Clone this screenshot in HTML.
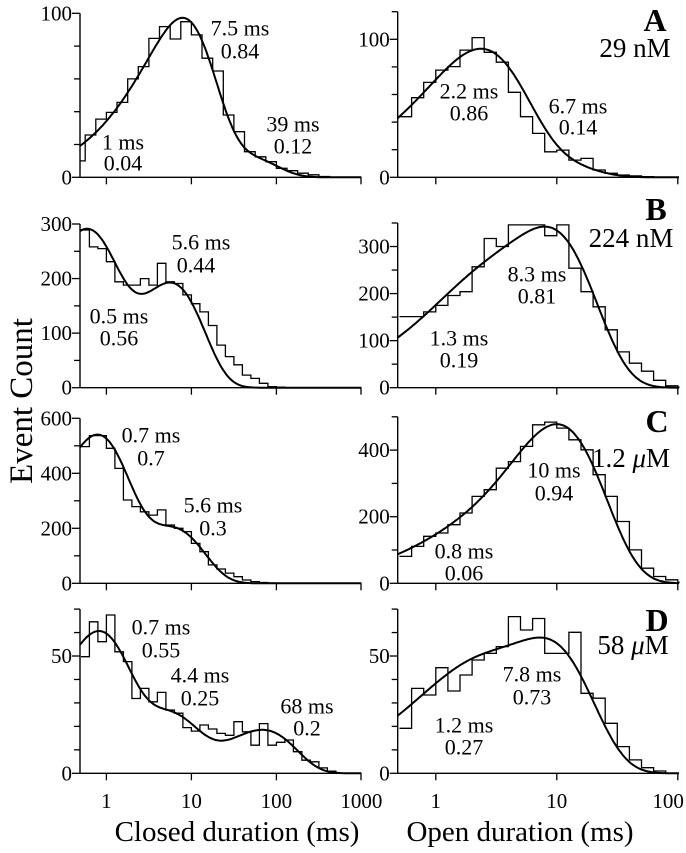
<!DOCTYPE html>
<html>
<head>
<meta charset="utf-8">
<style>
  html,body{margin:0;padding:0;background:#fff;}
  svg{display:block;font-family:"Liberation Serif","DejaVu Serif",serif;}
</style>
</head>
<body>
<svg id="fig" width="686" height="853" viewBox="0 0 686 853" xmlns="http://www.w3.org/2000/svg">
  <text x="22" y="401" font-size="33" text-anchor="middle" transform="rotate(-90 22 401)" dominant-baseline="central">Event Count</text>
  <text x="237" y="841" font-size="29" text-anchor="middle">Closed duration (ms)</text>
  <text x="520" y="841" font-size="29" text-anchor="middle">Open duration (ms)</text>

  <text x="655" y="31" font-size="32" font-weight="bold" text-anchor="middle">A</text>
  <text x="635" y="57" font-size="27" text-anchor="middle">29 nM</text>
  <text x="656" y="220" font-size="32" font-weight="bold" text-anchor="middle">B</text>
  <text x="631" y="247" font-size="27" text-anchor="middle">224 nM</text>
  <text x="657" y="432" font-size="32" font-weight="bold" text-anchor="middle">C</text>
  <text x="631" y="467" font-size="27" text-anchor="middle">1.2 <tspan font-style="italic">μ</tspan>M</text>
  <text x="657" y="631" font-size="32" font-weight="bold" text-anchor="middle">D</text>
  <text x="633" y="654" font-size="27" text-anchor="middle">58 <tspan font-style="italic">μ</tspan>M</text>
</svg>
<script>
// ---------- DATA ----------
const aClosedCounts = [10,25.8,35.5,39.6,45.7,60,67.5,84.7,91.9,84.3,94.9,86.8,72.6,64.8,38,27.8,15.6,12.5,9.5,5.5,4,2.5,1.5,0.5];
const aOpenCounts = [43.9,57.7,68.8,77.7,80.2,92.2,101.2,90.6,83.4,61.6,43.9,31.8,18.5,19.7,12.5,13.7,5.3,2.9,1.7,1,0.5];
const bClosedCounts = [289,258,255,231,194,188,188,200,188,228,194,191,170,154,139,114,78,57,42,23,17,8,2,1];
const bOpenCounts = [151,151,161,175,196,204,257,317,300,346,346,346,323,346,254,204,172,123,76,52,35,15.7,4,1];
const cClosedCounts = [497,537,537,491,418,303,279,260,248,267,212,200,188,145,115,67,52,37,24,12,6,3,1];
const cOpenCounts = [80.9,110.9,141,151,176,211,261,281,345.5,365.5,411,476,484,466,431,401,326,261,185.5,100.4,45.4,20.4,10.4,3];
const dClosedCounts = [49.7,64.6,56.1,67.5,51.8,47.6,31.9,36.2,30.5,34.5,27,25.6,19.5,18,20.6,18.9,17,16.2,22,17.7,12,21.2,12,13.2,14.2,9.2,5.6,4.9,2.3,0.9];
const dOpenCounts = [19.2,36.2,33.4,45.0,35.1,41.9,48.3,51.1,54.0,66.8,61.1,66.0,51.1,51.1,60.1,34.1,32.0,21.3,11.4,5.7,2.4,1.0];

const aClosedTau = [1, 7.5, 39];   const aClosedFrac = [0.04, 0.84, 0.12]; const aClosedScale = 296;
const aOpenTau = [2.2, 6.7];       const aOpenFrac = [0.86, 0.14];         const aOpenScale = 266;
const bClosedTau = [0.5, 5.6];     const bClosedFrac = [0.56, 0.44];       const bClosedScale = 1190;
const bOpenTau = [1.3, 8.3];       const bOpenFrac = [0.19, 0.81];         const bOpenScale = 1140;
const cClosedTau = [0.7, 5.6];     const cClosedFrac = [0.7, 0.3];         const cClosedScale = 1850;
const cOpenTau = [0.8, 10];        const cOpenFrac = [0.06, 0.94];         const cOpenScale = 1382;
const dClosedTau = [0.7, 4.4, 68]; const dClosedFrac = [0.55, 0.25, 0.2];  const dClosedScale = 252;
const dOpenTau = [1.2, 7.8];       const dOpenFrac = [0.27, 0.73];         const dOpenScale = 213;

const closedXTickLabels = ["1","10","100","1000"];
const openXTickLabels = ["1","10","100"];
const aClosedYLabels = [0,100]; const aOpenYLabels = [0,100];
const bClosedYLabels = [0,100,200,300]; const bOpenYLabels = [0,100,200,300];
const cClosedYLabels = [0,200,400,600]; const cOpenYLabels = [0,200,400];
const dClosedYLabels = [0,50]; const dOpenYLabels = [0,50];

// ---------- LAYOUT ----------
const NS = "http://www.w3.org/2000/svg";
const svg = document.getElementById('fig');
function mk(tag, attrs, parent){
  const e = document.createElementNS(NS, tag);
  for (const k in attrs) e.setAttribute(k, attrs[k]);
  (parent||svg).appendChild(e);
  return e;
}
const closedGeom = {x0:80, xEnd:361, xOne:106.4, decade:85, logMin:-0.31, logMax:3};
const openGeom = {x0:397.7, xEnd:679, xOne:435.8, decade:121, logMin:-0.315, logMax:2.01};

const panels = [
  {id:'a-closed', g:closedGeom, bpd:8, binStart:-0.375, counts:aClosedCounts, tau:aClosedTau, frac:aClosedFrac, scale:aClosedScale, yZero:177.3, yMax:100, yTop:13.3, tick:20, labels:aClosedYLabels, xlabels:null},
  {id:'a-open', g:openGeom, bpd:10, binStart:-0.3, counts:aOpenCounts, tau:aOpenTau, frac:aOpenFrac, scale:aOpenScale, yZero:177.3, yMax:120, yTop:11.7, tick:20, labels:aOpenYLabels, xlabels:null},
  {id:'b-closed', g:closedGeom, bpd:10, binStart:-0.3, counts:bClosedCounts, tau:bClosedTau, frac:bClosedFrac, scale:bClosedScale, yZero:387.7, yMax:300, yTop:224, tick:50, labels:bClosedYLabels, xlabels:null},
  {id:'b-open', g:openGeom, bpd:10, binStart:-0.3, counts:bOpenCounts, tau:bOpenTau, frac:bOpenFrac, scale:bOpenScale, yZero:387.7, yMax:350, yTop:223, tick:50, labels:bOpenYLabels, xlabels:null},
  {id:'c-closed', g:closedGeom, bpd:10, binStart:-0.3, counts:cClosedCounts, tau:cClosedTau, frac:cClosedFrac, scale:cClosedScale, yZero:583.3, yMax:600, yTop:418.3, tick:100, labels:cClosedYLabels, xlabels:null},
  {id:'c-open', g:openGeom, bpd:10, binStart:-0.3, counts:cOpenCounts, tau:cOpenTau, frac:cOpenFrac, scale:cOpenScale, yZero:583.3, yMax:500, yTop:416.8, tick:100, labels:cOpenYLabels, xlabels:null},
  {id:'d-closed', g:closedGeom, bpd:10, binStart:-0.3, counts:dClosedCounts, tau:dClosedTau, frac:dClosedFrac, scale:dClosedScale, yZero:773.3, yMax:70, yTop:609.1, tick:10, labels:dClosedYLabels, xlabels:closedXTickLabels},
  {id:'d-open', g:openGeom, bpd:10, binStart:-0.3, counts:dOpenCounts, tau:dOpenTau, frac:dOpenFrac, scale:dOpenScale, yZero:773.3, yMax:70, yTop:609.1, tick:10, labels:dOpenYLabels, xlabels:openXTickLabels}
];

panels.forEach(p => {
  const g = p.g;
  const xs = lg => g.xOne + g.decade * lg;
  const ys = v => p.yZero - (p.yZero - p.yTop) * v / p.yMax;
  const grp = mk('g', {});
  
  

  const yAxis = mk('line', {x1:g.x0, y1:p.yTop, x2:g.x0, y2:p.yZero, stroke:'#000', 'stroke-width':1.4}, grp);
  
  
  const xAxis = mk('line', {x1:g.x0, y1:p.yZero, x2:g.xEnd, y2:p.yZero, stroke:'#000', 'stroke-width':1.4}, grp);
  
  

  for (let v = 0; v <= p.yMax + 1e-6; v += p.tick) {
    const major = p.labels.indexOf(v) >= 0;
    const t = mk('line', {x1:g.x0 - (major ? 8 : 6), y1:ys(v), x2:g.x0, y2:ys(v), stroke:'#000', 'stroke-width':1.3}, grp);
    
    
  }
  p.labels.forEach(v => {
    const t = mk('text', {x:g.x0 - 8, y:ys(v) + 7, 'font-size':21, 'text-anchor':'end'}, grp);
    t.textContent = String(v);
    
    
  });

  for (let d = 0; d <= Math.floor(g.logMax + 1e-6); d++) {
    const x = Math.min(xs(d), g.xEnd);
    const t = mk('line', {x1:x, y1:p.yZero, x2:x, y2:p.yZero + 7, stroke:'#000', 'stroke-width':1.3}, grp);
    
    
  }
  if (p.xlabels) {
    p.xlabels.forEach((lab, i) => {
      let x = xs(i);
      if (i === p.xlabels.length - 1) x = Math.min(x, 686 - lab.length * 5.3 - 2);
      const t = mk('text', {x:x, y:808, 'font-size':21, 'text-anchor':'middle'}, grp);
      t.textContent = lab;
      
      
    });
  }

  const bw = 1 / p.bpd;
  let d = '';
  p.counts.forEach((c, i) => {
    let l = xs(p.binStart + i * bw), r = xs(p.binStart + (i + 1) * bw);
    l = Math.max(l, g.x0); r = Math.min(r, g.xEnd);
    if (r <= l) return;
    if (d === '') d = 'M' + l.toFixed(1) + ',' + ys(c).toFixed(1);
    else d += ' V' + ys(c).toFixed(1);
    d += ' H' + r.toFixed(1);
  });
  d += ' V' + p.yZero;
  const hist = mk('path', {d:d, fill:'none', stroke:'#000', 'stroke-width':1.3}, grp);
  
  

  let cd = '';
  const N = 220;
  for (let k = 0; k <= N; k++) {
    const lgx = g.logMin + (g.logMax - g.logMin) * k / N;
    const tm = Math.pow(10, lgx);
    let s = 0;
    p.tau.forEach((tau, j) => { s += p.frac[j] * (tm / tau) * Math.exp(-tm / tau); });
    const v = p.scale * s;
    cd += (k ? ' L' : 'M') + xs(lgx).toFixed(1) + ',' + ys(v).toFixed(1);
  }
  const fit = mk('path', {d:cd, fill:'none', stroke:'#000', 'stroke-width':2}, grp);
  
  
});

const annots = [
  [240,28,'7.5 ms'],[240,51,'0.84'],[293,124,'39 ms'],[293,146,'0.12'],[123,142,'1 ms'],[123,163,'0.04'],
  [469,91,'2.2 ms'],[469,113,'0.86'],[578,106,'6.7 ms'],[578,127,'0.14'],
  [201,242,'5.6 ms'],[196,265,'0.44'],[119,316,'0.5 ms'],[119,338,'0.56'],
  [537,274,'8.3 ms'],[537,296,'0.81'],[459,338,'1.3 ms'],[459,360,'0.19'],
  [151,435,'0.7 ms'],[151,458,'0.7'],[213,505,'5.6 ms'],[213,528,'0.3'],
  [554,470,'10 ms'],[554,493,'0.94'],[464,551,'0.8 ms'],[464,573,'0.06'],
  [161,627,'0.7 ms'],[161,650,'0.55'],[200,675,'4.4 ms'],[200,698,'0.25'],[307,706,'68 ms'],[307,728,'0.2'],
  [532,674,'7.8 ms'],[532,697,'0.73'],[464,725,'1.2 ms'],[464,747,'0.27']
];
annots.forEach(a => {
  const t = mk('text', {x:a[0], y:a[1] + 7.5, 'font-size':22, 'text-anchor':'middle'});
  t.textContent = a[2];
  
  
});
</script>
</body>
</html>
